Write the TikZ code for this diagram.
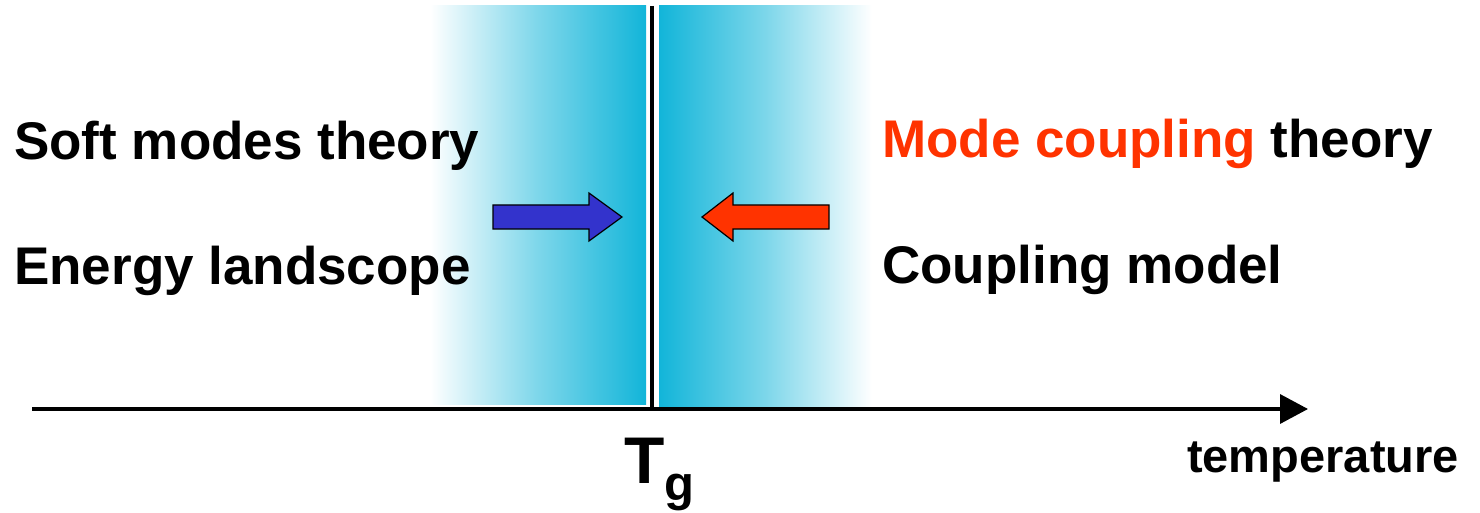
\documentclass[tikz,border=0pt]{standalone}
\usepackage{fontspec}
\setmainfont{Liberation Sans}
\usetikzlibrary{arrows.meta}
\definecolor{bandcyan}{HTML}{12B5D9}
\definecolor{arrblue}{HTML}{3333CC}
\definecolor{arrred}{HTML}{FF3300}
\begin{document}
\begin{tikzpicture}[x=1pt,y=-1pt,
  lbl/.style={anchor=base west,inner sep=0pt,font=\fontsize{53}{60}\selectfont\bfseries},
  blockarrow/.style={draw=black,line width=1.2pt,line join=miter}]
\useasboundingbox[fill=white] (0,0) rectangle (1480,513);
% shaded bands
\shade[left color=white,right color=bandcyan,middle color=bandcyan!55] (430,6) rectangle (646,404);
\shade[left color=bandcyan,right color=white,middle color=bandcyan!55] (659,6) rectangle (872,406);
% vertical line
\coordinate (vtop) at (652,6);
\coordinate (vbot) at (652,410);
\draw[line width=4pt] (vtop) -- (vbot);
% axis
\coordinate (axs) at (32,409);
\coordinate (axe) at (1308,409);
\draw[line width=3.5pt,-{Triangle[length=28pt,width=29pt]}] (axs) -- (axe);
% arrows
\fill[arrblue] (493,205) -- (589,205) -- (589,193) -- (622,217) -- (589,241) -- (589,229) -- (493,229) -- cycle;
\draw[blockarrow] (493,205) -- (589,205) -- (589,193) -- (622,217) -- (589,241) -- (589,229) -- (493,229) -- cycle;
\fill[arrred] (829,205) -- (733,205) -- (733,193) -- (702,217) -- (733,241) -- (733,229) -- (829,229) -- cycle;
\draw[blockarrow] (829,205) -- (733,205) -- (733,193) -- (702,217) -- (733,241) -- (733,229) -- (829,229) -- cycle;
% texts
\node[lbl] (soft) at (14,160) {Soft modes theory};
\node[lbl] (energy) at (14,284) {Energy landscope};
\node[lbl] (mct) at (882,158) {\textcolor{arrred}{Mode coupling} theory};
\node[lbl] (cm) at (882,283) {Coupling model};
\node[anchor=base west,inner sep=0pt,font=\fontsize{66}{72}\selectfont\bfseries] (tg) at (624,483) {T};
\node[anchor=base west,inner sep=0pt,font=\fontsize{49}{54}\selectfont\bfseries] (tgsub) at (664,500) {g};
\node[anchor=base west,inner sep=0pt,font=\fontsize{47}{52}\selectfont\bfseries] (temp) at (1187,472) {temperature};
\end{tikzpicture}
\end{document}
